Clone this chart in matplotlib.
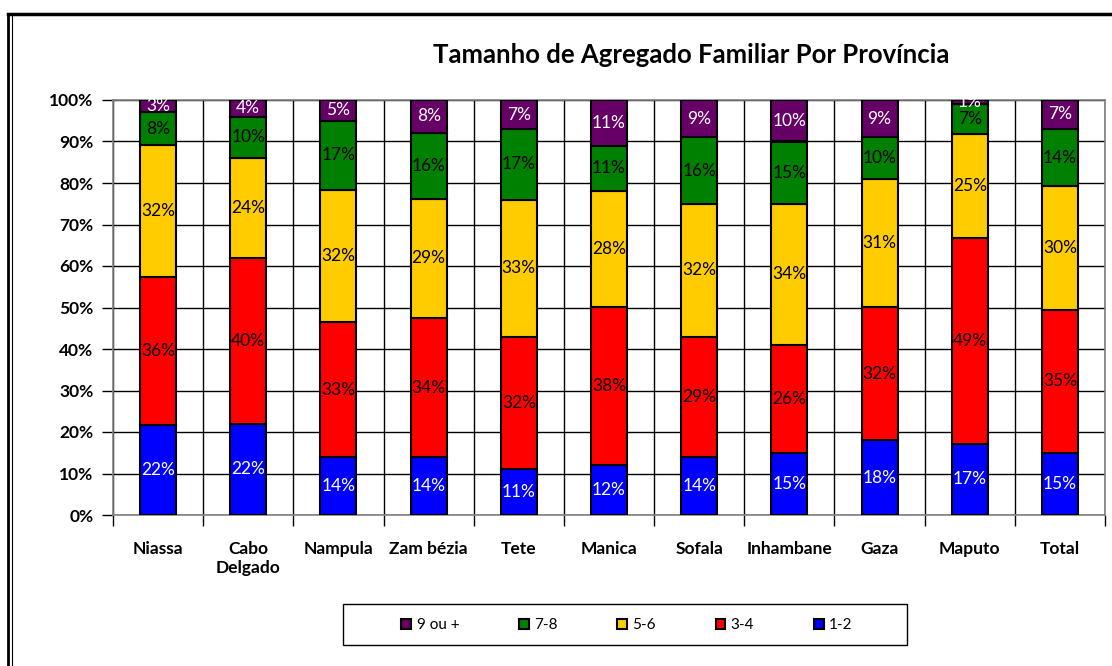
"""
Tamanho de agregado familiar por província: barras empilhadas a 100%.
"""
import numpy as np
import matplotlib
matplotlib.use("Agg")
import matplotlib.pyplot as plt
from matplotlib.lines import Line2D
from matplotlib.patches import Rectangle

provincias = ["Niassa", "Cabo\nDelgado", "Nampula", "Zam bézia", "Tete", "Manica",
              "Sofala", "Inhambane", "Gaza", "Maputo", "Total"]
series = ["1-2", "3-4", "5-6", "7-8", "9 ou +"]
v_1_2  = [22, 22, 14, 14, 11, 12, 14, 15, 18, 17, 15]
v_3_4  = [36, 40, 33, 34, 32, 38, 29, 26, 32, 49, 35]
v_5_6  = [32, 24, 32, 29, 33, 28, 32, 34, 31, 25, 30]
v_7_8  = [8, 10, 17, 16, 17, 11, 16, 15, 10, 7, 14]
v_9    = [3, 4, 5, 8, 7, 11, 9, 10, 9, 1, 7]
yticks = [0, 10, 20, 30, 40, 50, 60, 70, 80, 90, 100]

CORES = ["#0000FF", "#FF0000", "#FFCC00", "#008000", "#660066"]
COR_TXT = ["white", "black", "black", "black", "white"]
FONTE = ["Lato", "DejaVu Sans"]
plt.rcParams["font.family"] = FONTE

valores = np.array([v_1_2, v_3_4, v_5_6, v_7_8, v_9], dtype=float)
pct = valores / valores.sum(axis=0) * 100     # Excel normaliza para 100%

fig = plt.figure(figsize=(11.12, 6.66), dpi=100)
ax = fig.add_axes([113/1112, 1-515/666, 992/1112, 415/666])
x = np.arange(len(provincias))
base = np.zeros(len(provincias))
barras = []
for i, s in enumerate(series):
    b = ax.bar(x, pct[i], 0.4, bottom=base, color=CORES[i], edgecolor="black",
               lw=1.5, label=s, zorder=3)
    for xi, (v, b0, h) in enumerate(zip(valores[i], base, pct[i])):
        ax.text(xi, b0 + h/2, f"{int(v)}%", ha="center", va="center",
                color=COR_TXT[i], fontsize=12.5, zorder=4)
    base += pct[i]
    barras.append(b)

ax.set_xlim(-0.5, len(provincias) - 0.5)
ax.set_ylim(0, 100)
ax.set_yticks(yticks)
ax.set_yticklabels([f"{t}%" for t in yticks], fontsize=12.5, fontweight="bold")
ax.set_xticks(x)
ax.set_xticklabels(provincias, fontsize=12.5, fontweight="bold", va="top")
ax.set_xticks(np.arange(-0.5, len(provincias)), minor=True)
ax.tick_params(axis="x", which="major", length=0, pad=19)
ax.tick_params(axis="x", which="minor", length=8, width=1, color="black")
ax.tick_params(axis="y", length=8, width=1, pad=6)
ax.grid(axis="y", color="black", lw=1, zorder=0)
ax.grid(axis="x", which="minor", color="black", lw=1, zorder=0)
for sp in ax.spines.values():
    sp.set_color("#808080")
    sp.set_linewidth(1.2)

fig.text(691/1112, 1-55/666, "Tamanho de Agregado Familiar Por Província",
         ha="center", va="center", fontsize=18.5, fontweight="bold")

# caixa da legenda desenhada à parte (mais larga que as entradas)
fig.add_artist(Rectangle((343/1112, 1-645/666), 564/1112, 41/666,
                         transform=fig.transFigure, fill=False,
                         edgecolor="black", lw=1))
leg = fig.legend(barras[::-1], series[::-1], loc="center",
                 bbox_to_anchor=(627/1112, 1-625/666), ncol=5, fontsize=11,
                 frameon=False, handlelength=0.65, handleheight=0.65,
                 handletextpad=0.35, columnspacing=3.9)

# moldura da figura
fig.add_artist(Line2D([8/1112, 1], [1-14/666, 1-14/666], color="black", lw=2.5))
fig.add_artist(Line2D([8/1112, 8/1112], [0, 1-14/666], color="black", lw=2))
fig.add_artist(Line2D([12/1112, 12/1112], [0, 1-16/666], color="black", lw=0.8))

fig.savefig("out.png", dpi=100)
